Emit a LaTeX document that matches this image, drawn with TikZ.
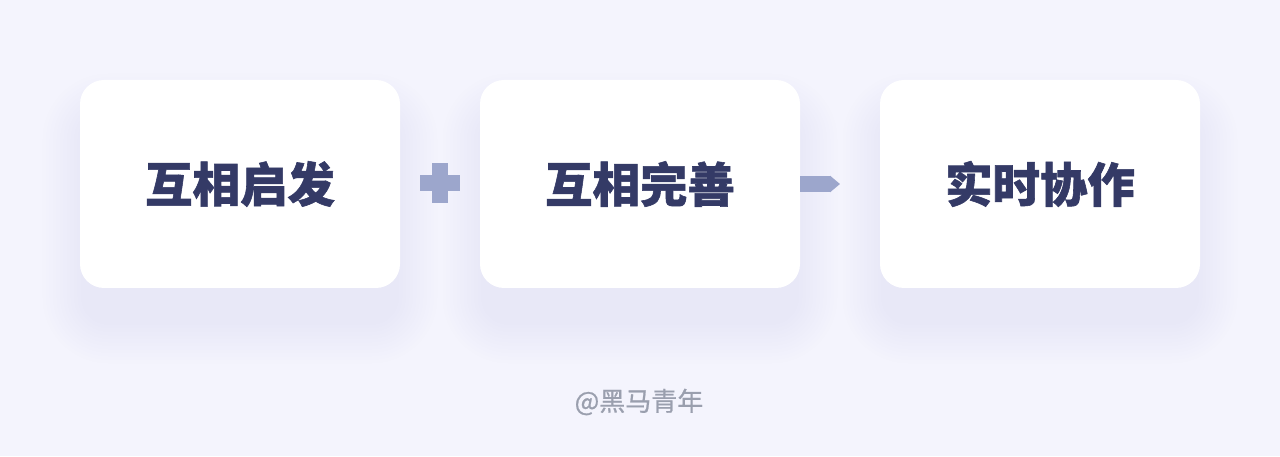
\documentclass[tikz,border=0pt]{standalone}
\usepackage{fontspec}
\newfontfamily\cjk{Noto Sans CJK SC}[BoldFeatures={FakeBold=1.2}]
\newfontfamily\cjkmid{Noto Sans CJK SC}[FakeBold=0.8]
\usetikzlibrary{arrows.meta}
\definecolor{bgBlue}{HTML}{F4F4FD}
\definecolor{shadowBlue}{HTML}{E7E7F7}
\definecolor{cardText}{HTML}{343A66}
\definecolor{symBlue}{HTML}{9CA6CC}
\definecolor{markGray}{HTML}{9A9FAE}
\begin{document}
\begin{tikzpicture}[
  card/.style={rectangle, draw=none, fill=white, rounded corners=0.48cm, minimum width=6.4cm, minimum height=4.16cm, font=\cjk\bfseries\fontsize{27}{27}\selectfont, text=cardText},
  bar/.style={rectangle, draw=none, fill=symBlue, inner sep=0pt}]
%\draw[help lines, step=1cm] (0,0) grid +(25.6,9.12);
\fill[bgBlue] (0,0) rectangle (25.6,9.12);
%%%%%%%%%%%%%%%%%%%%%%%%%%%%%%% soft shadows under the cards
\foreach \x in {4.8,12.8,20.8}{
  \foreach \i [evaluate=\i as \p using {int((13-\i)*8)}] in {12,...,1}{
    \fill[shadowBlue!\p!bgBlue, rounded corners={0.48cm+\i*0.07cm}] ({\x-3.1-\i*0.07},{2.7-\i*0.07}) rectangle ({\x+3.1+\i*0.07},{6.8+\i*0.07});
  }
}
%%%%%%%%%%%%%%%%%%%%%%%%%%%%%%% cards
\node[card](qiFa) at (4.8,5.44){互相启发};
\node[card](wanShan) at (12.8,5.44){互相完善};
\node[card](xieZuo) at (20.8,5.44){实时协作};
% plus sign
\node[bar, minimum width=0.8cm, minimum height=0.32cm](plusH) at (8.8,5.46){};
\node[bar, minimum width=0.32cm, minimum height=0.8cm](plusV) at (8.8,5.46){};
% arrow
\coordinate (arrowEnd) at (16.8,5.44);
\draw[symBlue, line width=0.32cm, -{Triangle[length=0.2cm,width=0.32cm]}] (wanShan.east) -- (arrowEnd);

\node[font=\cjkmid\fontsize{14.8}{15}\selectfont, text=markGray](mark) at (12.78,1.08){@黑马青年};
\end{tikzpicture}
\end{document}
